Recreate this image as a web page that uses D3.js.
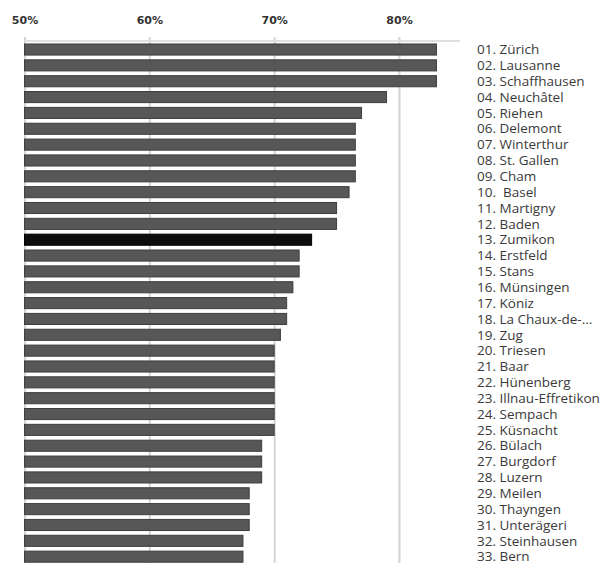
<!DOCTYPE html>
<html>
<head>
<meta charset="utf-8">
<script src="https://cdn.jsdelivr.net/npm/d3@7.9.0/dist/d3.min.js"></script>
<style>
  body { margin: 0; background: #fff; }
  svg { display: block; }
</style>
</head>
<body>
<div id="chart"></div>
<script>
// Ranked cities and their shares (%)
const cities = [
  '01. Zürich', '02. Lausanne', '03. Schaffhausen', '04. Neuchâtel', '05. Riehen',
  '06. Delemont', '07. Winterthur', '08. St. Gallen', '09. Cham', '10.  Basel',
  '11. Martigny', '12. Baden', '13. Zumikon', '14. Erstfeld', '15. Stans',
  '16. Münsingen', '17. Köniz', '18. La Chaux-de-...', '19. Zug', '20. Triesen',
  '21. Baar', '22. Hünenberg', '23. Illnau-Effretikon', '24. Sempach', '25. Küsnacht',
  '26. Bülach', '27. Burgdorf', '28. Luzern', '29. Meilen', '30. Thayngen',
  '31. Unterägeri', '32. Steinhausen', '33. Bern'
];
const values = [
  83, 83, 83, 79, 77,
  76.5, 76.5, 76.5, 76.5, 76,
  75, 75, 73, 72, 72,
  71.5, 71, 71, 70.5, 70,
  70, 70, 70, 70, 70,
  69, 69, 69, 68, 68,
  68, 67.5, 67.5
];
const highlight = '13. Zumikon';
const ticks = [50, 60, 70, 80];

const width = 612, height = 563;
const data = cities.map((name, i) => ({ name, value: values[i] }));

const svg = d3.select('#chart').append('svg')
  .attr('width', width)
  .attr('height', height);

const x = d3.scaleLinear()
  .domain([50, 80])
  .range([24.5, 399]);

const y = d3.scaleBand()
  .domain(cities)
  .range([41.6, 564.6])
  .paddingInner(0.3)
  .paddingOuter(0.15);

// gridlines
const grid = svg.append('g')
  .attr('transform', `translate(0, ${height})`)
  .call(d3.axisTop(x).tickValues(ticks).tickFormat('').tickSize(height - 37));
grid.select('.domain').remove();
grid.selectAll('line')
  .attr('stroke', '#d4d4d4')
  .attr('stroke-width', 2);

// top rule
svg.append('line')
  .attr('x1', x(50)).attr('x2', 460)
  .attr('y1', 41).attr('y2', 41)
  .attr('stroke', '#e0e0e0')
  .attr('stroke-width', 2);

// tick labels
const axis = svg.append('g')
  .attr('transform', 'translate(0, 28)')
  .call(d3.axisTop(x).tickValues(ticks).tickFormat(d => d + '%').tickSize(0).tickPadding(4));
axis.select('.domain').remove();
axis.selectAll('text')
  .attr('font-family', 'DejaVu Sans, sans-serif')
  .attr('font-weight', 'bold')
  .attr('font-size', 11)
  .attr('fill', '#333');

// bars
svg.append('g')
  .selectAll('rect')
  .data(data)
  .join('rect')
  .attr('x', x(50))
  .attr('y', d => y(d.name))
  .attr('width', d => x(d.value) - x(50))
  .attr('height', y.bandwidth())
  .attr('fill', d => d.name === highlight ? '#0d0d0d' : '#575757')
  .attr('stroke', d => d.name === highlight ? '#000' : '#3e3e3e')
  .attr('stroke-width', 1);

// city labels
svg.append('g')
  .selectAll('text')
  .data(data)
  .join('text')
  .attr('x', 477)
  .attr('y', d => y(d.name) + y.bandwidth() / 2)
  .attr('dy', '0.35em')
  .attr('font-family', 'Open Sans, sans-serif')
  .attr('font-size', 13.5)
  .attr('fill', '#3a3a3a')
  .style('white-space', 'pre')
  .text(d => d.name);
</script>
</body>
</html>
